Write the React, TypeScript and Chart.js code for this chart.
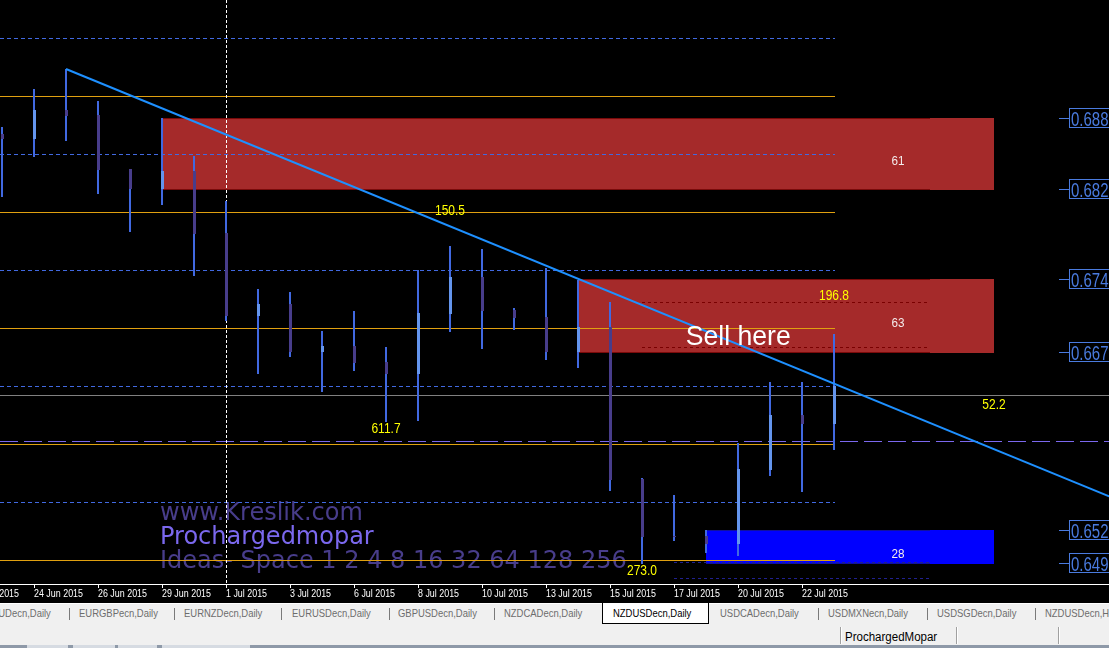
import React, { useEffect, useRef } from "react";
import { Chart, registerables } from "chart.js";

Chart.register(...registerables);

// ---------------- data ----------------
const barDates = [
  "23 Jun 2015", "24 Jun 2015", "25 Jun 2015", "26 Jun 2015", "28 Jun 2015", "29 Jun 2015",
  "30 Jun 2015", "1 Jul 2015", "2 Jul 2015", "3 Jul 2015", "5 Jul 2015", "6 Jul 2015",
  "7 Jul 2015", "8 Jul 2015", "9 Jul 2015", "10 Jul 2015", "12 Jul 2015", "13 Jul 2015",
  "14 Jul 2015", "15 Jul 2015", "16 Jul 2015", "17 Jul 2015", "19 Jul 2015", "20 Jul 2015",
  "21 Jul 2015", "22 Jul 2015", "23 Jul 2015",
];
const opens = [
  0.68673, 0.6863, 0.6888, 0.68837, 0.68371, 0.68199, 0.68354, 0.67819, 0.67104, 0.67207,
  0.66794, 0.66845, 0.66707, 0.66604, 0.67121, 0.6744, 0.67156, 0.67095, 0.66794, 0.67009,
  0.65699, 0.65207, 0.65207, 0.65138, 0.65776, 0.6625, 0.66173,
];
const highs = [
  0.68733, 0.69061, 0.69233, 0.68957, 0.68371, 0.68811, 0.68483, 0.68095, 0.67337, 0.67311,
  0.66975, 0.67147, 0.66837, 0.675, 0.67707, 0.67681, 0.67173, 0.67518, 0.67414, 0.67225,
  0.65707, 0.65561, 0.65259, 0.66009, 0.66535, 0.66535, 0.66949,
];
const lows = [
  0.6813, 0.68475, 0.68613, 0.68156, 0.67828, 0.68061, 0.67449, 0.67061, 0.66604, 0.6675,
  0.66449, 0.6663, 0.6619, 0.66199, 0.66966, 0.66819, 0.66983, 0.66725, 0.66656, 0.65595,
  0.64966, 0.65164, 0.65061, 0.65035, 0.65725, 0.65587, 0.65949,
];
const closes = [
  0.6863, 0.6888, 0.68828, 0.68363, 0.68199, 0.68354, 0.67811, 0.67104, 0.67207, 0.66794,
  0.66845, 0.66699, 0.66604, 0.6713, 0.6744, 0.67147, 0.67087, 0.66794, 0.67009, 0.6569,
  0.65199, 0.65199, 0.65138, 0.65785, 0.6625, 0.66173, 0.665,
];

const tickIndexes = [-1, 1, 3, 5, 7, 9, 11, 13, 15, 17, 19, 21, 23, 25];
const tickLabels = [
  "22 Jun 2015", "24 Jun 2015", "26 Jun 2015", "29 Jun 2015", "1 Jul 2015", "3 Jul 2015",
  "6 Jul 2015", "8 Jul 2015", "10 Jul 2015", "13 Jul 2015", "15 Jul 2015", "17 Jul 2015",
  "20 Jul 2015", "22 Jul 2015",
];

const mainLevels = [0.69, 0.68, 0.67, 0.66, 0.65];
const midLevels = [0.695, 0.685, 0.675, 0.665, 0.655];
const bidPrice = 0.66423;
const dashedPrice = 0.66026;
const separatorIndex = 7;

const trendX = [2, 34.6];
const trendY = [0.69233, 0.65549];

const zoneKind = ["supply", "supply", "demand"];
const zoneTop = [0.68811, 0.67423, 0.65259];
const zoneBottom = [0.682, 0.66794, 0.64975];
const zoneStart = [5, 18, 22];
const zoneEnd = [31, 31, 31];
const zoneBorderEnd = [29, 29, 29];
const zoneStrength = ["61", "63", "28"];
const zoneLabelIndex = 28;
const zoneInnerLines = [[], [0.67225, 0.66837], [0.64983, 0.64845]];
const zoneInnerStart = [0, 20, 21];

const noteTexts = ["150.5", "611.7", "273.0", "196.8", "52.2"];
const noteIndex = [14, 12, 20, 26, 31];
const notePrice = [0.67975, 0.66095, 0.64875, 0.67242, 0.66302];

const sellText = "Sell here";
const sellIndex = 21.366;
const sellPrice = 0.66854;

const watermarkLines = ["www.Kreslik.com", "Prochargedmopar", "Ideas- Space 1 2 4 8 16 32 64 128 256"];
const watermarkColors = ["#483D8B", "#7B68EE", "#483D8B"];

const tabs = [
  "EURAUDecn,Daily", "EURGBPecn,Daily", "EURNZDecn,Daily", "EURUSDecn,Daily", "GBPUSDecn,Daily",
  "NZDCADecn,Daily", "NZDUSDecn,Daily", "USDCADecn,Daily", "USDMXNecn,Daily", "USDSGDecn,Daily",
  "NZDUSDecn,H4",
];
const activeTab = 6;
const statusText = "ProchargedMopar";

// ---------------- layout constants ----------------
const W = 1109;
const CH = 603;
const X_MIN = -0.0625;
const X_MAX = 34.59375;
const Y_MAX = 0.69828;
const Y_MIN = 0.64794;
const tabX = [-28, 78.6, 184, 292, 398, 503.6, 612.5, 719.6, 827.9, 936.8, 1044.6];
const tabSeps = [69, 173.6, 281.4, 389, 493.6, 817.9, 926.8, 1035];

const BULL = "#6495ED";
const BEAR = "#483D8B";
const WICK = "#4169E1";

function drawText(ctx: any, text: string, x: number, y: number, font: string, color: string, sx: number, align: string) {
  ctx.save();
  ctx.font = font;
  ctx.fillStyle = color;
  ctx.textBaseline = "alphabetic";
  ctx.textAlign = align;
  ctx.translate(x, y);
  ctx.scale(sx, 1);
  ctx.fillText(text, 0, 0);
  ctx.restore();
}

const mt4Plugin = {
  id: "mt4",
  beforeDraw(chart: any) {
    const { ctx, width, height } = chart;
    ctx.save();
    ctx.fillStyle = "#000";
    ctx.fillRect(0, 0, width, height);
    ctx.restore();
  },
  beforeDatasetsDraw(chart: any) {
    const { ctx, chartArea: a, scales } = chart;
    const xs = scales.x;
    const ys = scales.y;
    const X = (v: number) => Math.round(xs.getPixelForValue(v));
    const Y = (v: number) => Math.round(ys.getPixelForValue(v));
    ctx.save();
    ctx.beginPath();
    ctx.rect(a.left, a.top, a.right - a.left, a.bottom - a.top);
    ctx.clip();

    // zones
    zoneTop.forEach((top, k) => {
      const supply = zoneKind[k] === "supply";
      const x0 = X(zoneStart[k]);
      const x1 = X(zoneEnd[k]);
      const xb = X(zoneBorderEnd[k]);
      const y0 = Y(top);
      const y1 = Y(zoneBottom[k]);
      ctx.fillStyle = supply ? "#A52A2A" : "#0000FF";
      ctx.fillRect(x0, y0, x1 - x0, y1 - y0 + 1);
      ctx.fillStyle = supply ? "#7A0A0A" : "#1010A0";
      ctx.fillRect(x0, y0, xb - x0, 1);
      ctx.fillRect(x0, y1, xb - x0, 1);
    });

    // watermark
    watermarkLines.forEach((t, i) => {
      drawText(ctx, t, 160, 520 + i * 24, '24px "DejaVu Sans"', watermarkColors[i], 1, "left");
    });

    const xLast = X(opens.length - 1) + 1;
    // main levels
    ctx.fillStyle = "#E0A010";
    mainLevels.forEach((p) => ctx.fillRect(0, Y(p), xLast, 1));
    // mid levels
    ctx.strokeStyle = "#4169E1";
    ctx.lineWidth = 1;
    ctx.setLineDash([4, 3]);
    midLevels.forEach((p) => {
      const yy = Y(p) + 0.5;
      ctx.beginPath();
      ctx.moveTo(0, yy);
      ctx.lineTo(xLast, yy);
      ctx.stroke();
    });
    // bid line
    ctx.setLineDash([]);
    ctx.fillStyle = "#808080";
    ctx.fillRect(0, Y(bidPrice), a.right, 1);
    // long dashed line
    ctx.strokeStyle = "#7B68EE";
    ctx.setLineDash([18, 6]);
    ctx.beginPath();
    ctx.moveTo(0, Y(dashedPrice) + 0.5);
    ctx.lineTo(a.right, Y(dashedPrice) + 0.5);
    ctx.stroke();
    // zone inner lines
    ctx.setLineDash([3, 3]);
    zoneInnerLines.forEach((arr, k) => {
      ctx.strokeStyle = zoneKind[k] === "supply" ? "#7A0000" : "#202090";
      arr.forEach((p) => {
        const yy = Y(p) + 0.5;
        ctx.beginPath();
        ctx.moveTo(X(zoneInnerStart[k]), yy);
        ctx.lineTo(X(zoneBorderEnd[k]), yy);
        ctx.stroke();
      });
    });
    // period separator
    ctx.strokeStyle = "#FFFFFF";
    ctx.setLineDash([3, 2]);
    ctx.beginPath();
    ctx.moveTo(X(separatorIndex) + 0.5, a.top);
    ctx.lineTo(X(separatorIndex) + 0.5, a.bottom);
    ctx.stroke();
    ctx.setLineDash([]);

    // candles
    opens.forEach((o, i) => {
      const c = closes[i];
      const cx = X(i);
      const yh = Y(highs[i]);
      const yl = Y(lows[i]);
      ctx.fillStyle = WICK;
      ctx.fillRect(cx - 1, yh, 2, Math.max(1, yl - yh));
      const yo = Y(o);
      const yc = Y(c);
      ctx.fillStyle = c >= o ? BULL : BEAR;
      ctx.fillRect(cx - 1, Math.min(yo, yc), 3, Math.max(1, Math.abs(yo - yc)));
    });
    ctx.restore();
  },
  afterDatasetsDraw(chart: any) {
    const { ctx, chartArea: a, scales, width } = chart;
    const xs = scales.x;
    const ys = scales.y;
    const X = (v: number) => Math.round(xs.getPixelForValue(v));
    const Y = (v: number) => Math.round(ys.getPixelForValue(v));

    // yellow notes
    noteTexts.forEach((t, i) => {
      drawText(ctx, t, X(noteIndex[i]), Y(notePrice[i]), '15px "Liberation Sans"', "#FFFF00", 0.8, "center");
    });
    // zone strength labels
    zoneTop.forEach((top, k) => {
      const mid = (Y(top) + Y(zoneBottom[k])) / 2;
      drawText(ctx, zoneStrength[k], X(zoneLabelIndex), mid + 11.5, '13px "Liberation Sans"', "#F4ECEC", 0.9, "center");
    });
    // sell here
    drawText(ctx, sellText, xs.getPixelForValue(sellIndex), Y(sellPrice), '28px "Liberation Sans"', "#FFFFFF", 0.95, "left");

    // right price labels
    const priceMarks: number[] = [];
    zoneTop.forEach((t, k) => {
      priceMarks.push(t, zoneBottom[k]);
    });
    priceMarks.forEach((p) => {
      const yy = Y(p);
      ctx.fillStyle = "#4A7BDF";
      ctx.fillRect(1059, yy, 10, 1);
      ctx.strokeStyle = "#4A7BDF";
      ctx.lineWidth = 1;
      ctx.strokeRect(1069.5, yy - 9.5, 80, 19);
      drawText(ctx, p.toFixed(5), 1071, yy + 7.5, '20px "Liberation Sans"', "#4A7BDF", 0.75, "left");
    });

    // bottom axis
    ctx.fillStyle = "#FFFFFF";
    ctx.fillRect(0, a.bottom, width, 1);
    tickIndexes.forEach((ti, i) => {
      const tx = X(ti);
      ctx.fillStyle = "#FFFFFF";
      ctx.fillRect(tx, a.bottom + 1, 1, 3);
      drawText(ctx, tickLabels[i], tx, 597, '10px "Liberation Sans"', "#FFFFFF", 0.89, "left");
    });
  },
};

export default function App() {
  const ref = useRef<HTMLCanvasElement>(null);
  useEffect(() => {
    const canvas = ref.current as HTMLCanvasElement;
    const chart = new Chart(canvas, {
      type: "line",
      data: {
        labels: barDates,
        datasets: [
          {
            label: "trend",
            data: trendX.map((v, i) => ({ x: v, y: trendY[i] })),
            borderColor: "#1E90FF",
            borderWidth: 2,
            pointRadius: 0,
            fill: false,
            tension: 0,
          },
        ],
      },
      options: {
        animation: false,
        responsive: false,
        maintainAspectRatio: false,
        devicePixelRatio: 1,
        events: [],
        layout: { padding: { left: 0, right: 0, top: 0, bottom: CH - 584 } },
        scales: {
          x: { type: "linear", min: X_MIN, max: X_MAX, display: false },
          y: { type: "linear", min: Y_MIN, max: Y_MAX, display: false },
        },
        plugins: { legend: { display: false }, tooltip: { enabled: false } },
      },
      plugins: [mt4Plugin],
    } as any);
    return () => chart.destroy();
  }, []);

  const tabFont: React.CSSProperties = {
    position: "absolute",
    top: 606,
    font: '11px "Liberation Sans", Arial, sans-serif',
    lineHeight: "15px",
    whiteSpace: "nowrap",
    transform: "scaleX(0.86)",
    transformOrigin: "left center",
  };

  return (
    <div style={{ position: "fixed", left: 0, top: 0, width: W, height: 648, overflow: "hidden", background: "#F0F0F0" }}>
      <canvas ref={ref} width={W} height={CH} style={{ position: "absolute", left: 0, top: 0, width: W, height: CH }} />
      <div style={{ position: "absolute", left: 0, top: 603, width: W, height: 1, background: "#FFFFFF" }} />
      <div style={{ position: "absolute", left: 602, top: 603, width: 105, height: 20, background: "#FFFFFF", borderLeft: "1px solid #000", borderRight: "1px solid #000", borderBottom: "1px solid #000" }} />
      {tabSeps.map((x, i) => (
        <div key={"s" + i} style={{ position: "absolute", left: Math.round(x), top: 608, width: 1, height: 12, background: "#7A7A7A" }} />
      ))}
      {tabs.map((t, i) => (
        <span key={"t" + i} style={{ ...tabFont, left: tabX[i], color: i === activeTab ? "#000000" : "#6D6D6D" }}>{t}</span>
      ))}
      {[840, 956, 1058].map((x, i) => (
        <div key={"b" + i} style={{ position: "absolute", left: x, top: 627, width: 1, height: 17, background: "#A0A0A0", borderRight: "1px solid #FFFFFF" }} />
      ))}
      <span style={{ position: "absolute", left: 845, top: 629, font: '12px "Liberation Sans", Arial, sans-serif', lineHeight: "16px", color: "#000", whiteSpace: "nowrap", transform: "scaleX(0.96)", transformOrigin: "left center" }}>{statusText}</span>
      <div style={{ position: "absolute", left: 0, top: 645, width: W, height: 3, background: "#8E99A8" }} />
      {[[27, 68], [73, 115], [118, 157], [162, 250]].map((r, i) => (
        <div key={"k" + i} style={{ position: "absolute", left: r[0], top: 645, width: r[1] - r[0], height: 3, background: "#D6DBE2" }} />
      ))}
    </div>
  );
}
